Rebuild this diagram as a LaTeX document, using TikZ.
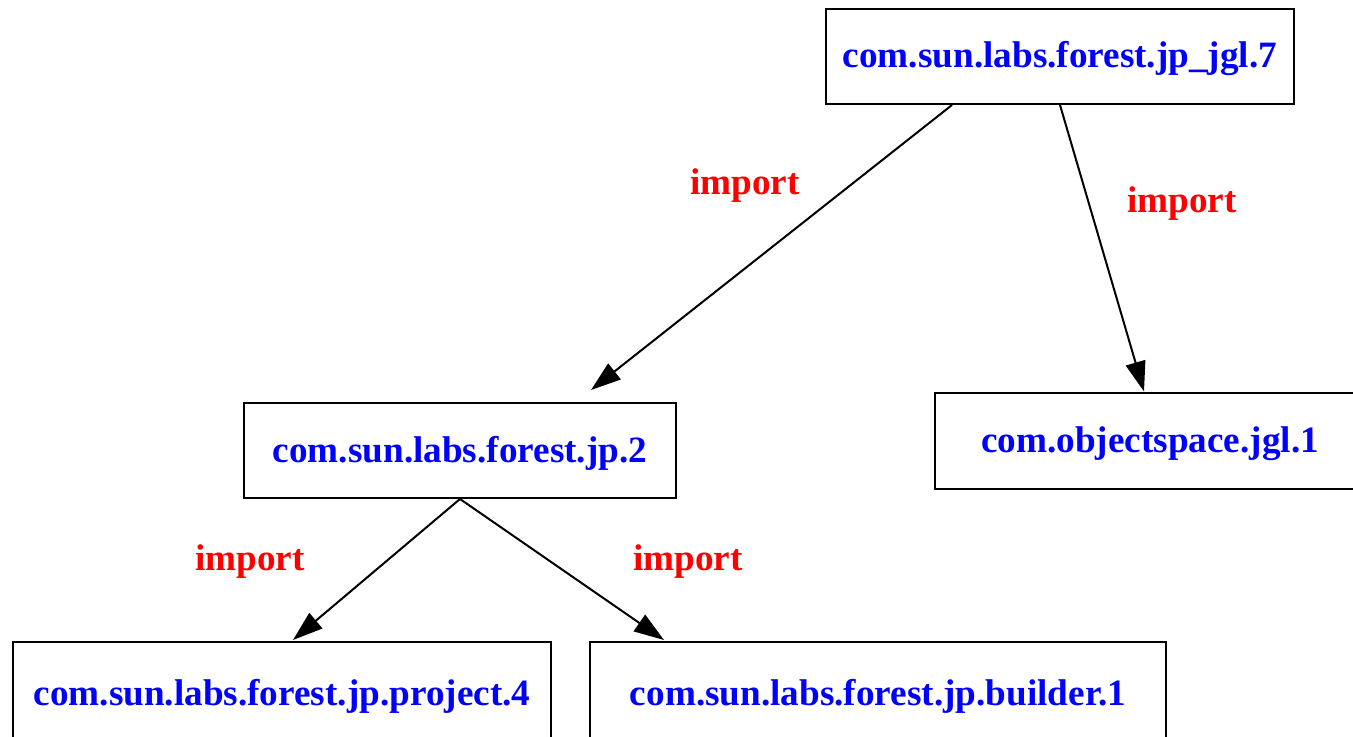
\documentclass[tikz,border=0pt]{standalone}
\usepackage{fontspec}
\setmainfont{Liberation Serif}
\usetikzlibrary{arrows.meta}
\definecolor{nodeblue}{RGB}{0,0,255}
\definecolor{labred}{RGB}{255,0,0}
\tikzset{
  box/.style={draw=black, line width=1pt, fill=white, inner sep=0pt, text=nodeblue,
    font=\fontsize{18.6}{20}\selectfont\bfseries},
  midbox/.style={box, text height=15.5pt, text depth=4pt},
  lab/.style={text=labred, font=\fontsize{18.6}{20}\selectfont\bfseries, inner sep=0pt},
  edge/.style={line width=1pt, -{Triangle[length=15pt,width=10pt]}}
}
\begin{document}
\begin{tikzpicture}[x=0.5pt,y=-0.5pt]
\useasboundingbox (0,0) rectangle (1353,737);
\clip (0,0) rectangle (1353,737);
\node[midbox, minimum width=234pt, minimum height=47.5pt] (top) at (1060,56.5) {com.sun.labs.forest.jp\_jgl.7};
\node[midbox, minimum width=216pt, minimum height=47.5pt] (jp) at (460,450.5) {com.sun.labs.forest.jp.2};
\node[midbox, minimum width=215pt, minimum height=48pt] (obj) at (1150,440.5) {com.objectspace.jgl.1};
\node[box, minimum width=269pt, minimum height=50pt, text depth=0pt] (proj) at (282,692) {com.sun.labs.forest.jp.project.4};
\node[box, minimum width=288pt, minimum height=50pt, text depth=0pt] (build) at (878,692) {com.sun.labs.forest.jp.builder.1};
\draw[edge] ([xshift=63.5pt]top.south west) -- ([xshift=174pt,yshift=6pt]jp.north west);
\draw[edge] (top.south) -- ([xshift=105pt]obj.north west);
\draw[edge] (jp.south) -- ([xshift=140.5pt,yshift=0.5pt]proj.north west);
\draw[edge] (jp.south) -- ([xshift=37.5pt,yshift=0.5pt]build.north west);
\node[lab] (l1) at (745,186) {import};
\node[lab] (l2) at (1182,204) {import};
\node[lab] (l3) at (250,562) {import};
\node[lab] (l4) at (688,562) {import};
\end{tikzpicture}
\end{document}
